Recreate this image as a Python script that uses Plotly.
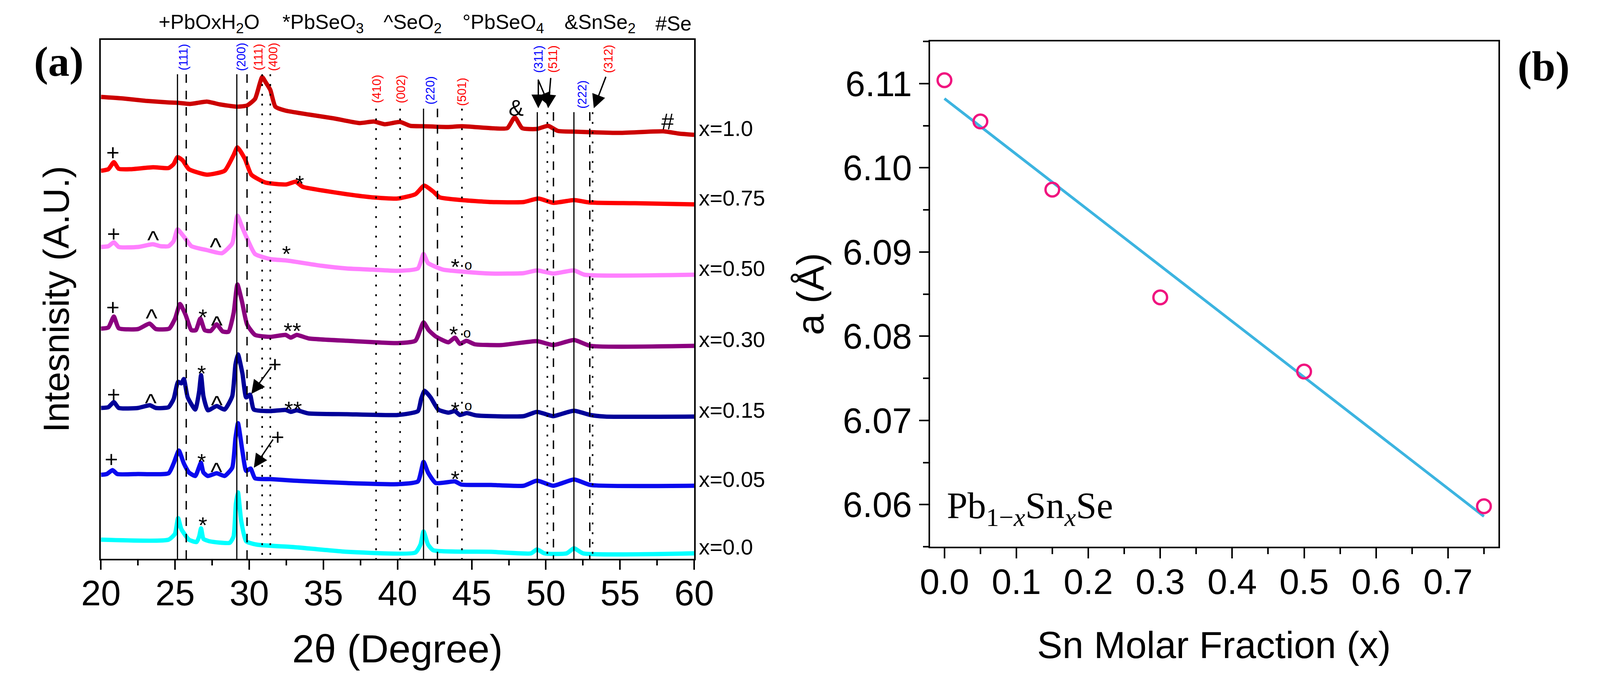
import numpy as np
import plotly.graph_objects as go

# reference canvas (pixel measurements below are in this frame; layout uses fractions of it)
W, H = 4313, 1735
FS = 0.97  # font scale

# ---------------- Panel (a): XRD patterns (2theta in degrees, stacked intensity in a.u.) ----------------
sample_labels = ["x=1.0", "x=0.75", "x=0.50", "x=0.30", "x=0.15", "x=0.05", "x=0.0"]
sample_colors = ["#CC0000", "#FF0000", "#FF80FF", "#8B007F", "#000099", "#0A0AEE", "#00FFFF"]

t_10 = [20.0, 21.5, 23.0, 24.5, 25.16, 26.0, 27.14, 28.0, 29.16, 29.85, 30.39, 30.7, 30.87, 31.1, 31.42,
        31.76, 32.44, 34.0, 35.71, 37.43, 38.4, 39.14, 40.17, 40.86, 41.75, 43.43, 44.34, 46.3, 47.4, 47.9,
        48.4, 49.39, 50.15, 50.8, 52.0, 55.0, 57.9, 59.0, 60.0]
i_10 = [1182, 1178, 1172, 1168, 1167, 1164, 1170, 1163, 1157, 1160, 1177, 1215, 1233, 1220, 1200,
        1157, 1147, 1137, 1127, 1115, 1119, 1112, 1118, 1108, 1107, 1105, 1107, 1102, 1102, 1130,
        1102, 1100, 1108, 1095, 1093, 1090, 1094, 1088, 1085]

t_075 = [20.0, 20.5, 20.87, 21.2, 21.98, 23.52, 24.56, 24.9, 25.16, 25.5, 25.93, 27.14, 28.34, 28.94, 29.2,
         29.71, 30.14, 31.08, 32.5, 33.13, 33.6, 34.86, 36.57, 38.29, 40.0, 41.2, 41.8, 42.4, 42.84, 44.34,
         46.3, 48.5, 49.5, 50.5, 51.9, 52.9, 56.0, 60.0]
i_075 = [993, 997, 1015, 998, 997, 1002, 1000, 1010, 1028, 1020, 997, 983, 993, 1033, 1053,
         1023, 983, 963, 958, 965, 952, 943, 933, 925, 922, 933, 955, 940, 925, 918,
         913, 913, 922, 911, 918, 912, 910, 907]

t_050 = [20.0, 20.5, 20.87, 21.2, 22.5, 23.5, 24.0, 24.56, 24.9, 25.16, 25.68, 26.1, 27.14, 28.16, 28.85,
         29.2, 29.54, 29.85, 30.39, 31.42, 32.6, 34.86, 36.57, 38.29, 40.0, 41.37, 41.75, 42.05, 43.07, 44.34,
         46.3, 48.5, 49.4, 50.5, 51.9, 52.6, 60.0]
i_050 = [798, 800, 810, 798, 798, 805, 800, 800, 813, 843, 820, 800, 790, 782, 807,
         878, 847, 820, 780, 767, 763, 750, 743, 740, 737, 743, 780, 757, 740, 735,
         730, 731, 738, 730, 738, 727, 727]

t_030 = [20.0, 20.5, 20.87, 21.2, 22.5, 23.28, 23.7, 24.6, 25.0, 25.33, 25.7, 26.1, 26.4, 26.7, 27.0,
         27.4, 27.8, 28.2, 28.6, 28.95, 29.2, 29.5, 29.85, 30.39, 31.42, 32.45, 32.8, 33.2, 34.0, 36.57,
         40.0, 41.2, 41.75, 42.1, 42.57, 43.43, 43.87, 44.2, 44.64, 45.2, 47.0, 49.4, 50.5, 51.9, 53.0, 60.0]
i_030 = [589, 592, 620, 590, 588, 602, 588, 589, 615, 652, 625, 585, 585, 615, 585,
         583, 600, 582, 581, 630, 702, 660, 600, 573, 568, 573, 566, 573, 564, 558,
         552, 558, 605, 585, 569, 554, 566, 550, 558, 549, 547, 557, 547, 560, 545, 545]

t_015 = [20.0, 20.5, 20.87, 21.2, 22.5, 23.3, 23.7, 24.56, 24.9, 25.2, 25.42, 25.59, 25.85, 26.36, 26.62,
         26.75, 26.91, 27.21, 27.8, 28.34, 28.85, 29.07, 29.24, 29.54, 29.79, 30.05, 30.31, 31.42, 32.45, 32.8,
         33.2, 34.0, 36.57, 40.0, 41.37, 41.59, 41.82, 42.23, 42.74, 43.43, 43.87, 44.2, 44.67, 45.3, 48.5,
         49.4, 50.5, 51.0, 51.9, 53.0, 54.0, 60.0]
i_015 = [386, 388, 401, 386, 386, 393, 386, 388, 409, 453, 449, 460, 413, 382, 428,
         470, 416, 380, 391, 382, 416, 497, 523, 474, 413, 420, 382, 378, 381, 376,
         380, 372, 370, 368, 378, 409, 430, 413, 382, 374, 378, 368, 373, 367, 365,
         376, 365, 370, 379, 368, 364, 364]

t_005 = [20.0, 20.4, 20.78, 21.1, 22.5, 24.56, 24.9, 25.25, 25.59, 25.93, 26.36, 26.6, 26.74, 26.91, 27.21,
         27.8, 28.34, 28.85, 29.07, 29.24, 29.54, 29.79, 30.09, 30.39, 31.42, 33.0, 36.57, 40.0, 41.37, 41.75,
         42.05, 42.57, 43.87, 44.3, 46.3, 48.5, 49.4, 50.5, 51.9, 53.0, 60.0]
i_005 = [215, 217, 227, 217, 217, 219, 244, 277, 244, 221, 212, 233, 246, 221, 212,
         219, 212, 233, 309, 347, 275, 225, 231, 206, 204, 200, 194, 191, 198, 248,
         221, 194, 198, 190, 189, 187, 200, 187, 203, 189, 187]

t_000 = [20.0, 24.56, 24.99, 25.2, 25.42, 25.93, 26.45, 26.62, 26.75, 26.91, 27.3, 28.68, 28.94, 29.1, 29.24,
         29.45, 29.79, 30.56, 33.0, 36.57, 41.2, 41.55, 41.75, 42.05, 42.4, 46.3, 49.0, 49.4, 49.9, 51.4,
         51.9, 52.5, 60.0]
i_000 = [49, 49, 64, 104, 76, 49, 43, 57, 78, 51, 45, 41, 57, 141, 170,
         99, 45, 36, 30, 18, 16, 37, 70, 37, 22, 18, 14, 24, 14, 14,
         27, 14, 14]

series_t = [t_10, t_075, t_050, t_030, t_015, t_005, t_000]
series_i = [i_10, i_075, i_050, i_030, i_015, i_005, i_000]

# reference line positions (2theta)
pbse_lines = [25.16, 29.16, 41.75, 49.42, 51.89]               # solid
dashed_lines = [25.75, 29.85, 42.69, 50.51, 52.96]             # dashed
snse_lines = [30.87, 31.42, 38.55, 40.17, 44.34, 50.1, 53.15]  # dotted

# Miller index labels: text, 2theta, intensity, phase
hkl_text = ["(111)", "(200)", "(111)", "(400)", "(410)", "(002)", "(220)", "(501)", "(311)", "(511)", "(222)", "(312)"]
hkl_pos = [25.55, 29.44, 30.6, 31.6, 38.58, 40.22, 42.18, 44.33, 49.5, 50.47, 52.44, 54.2]
hkl_int = [1284, 1284, 1284, 1284, 1202, 1202, 1198, 1195, 1279, 1279, 1188, 1279]
hkl_phase = ["b", "b", "r", "r", "r", "r", "b", "r", "b", "r", "b", "r"]

# impurity markers: symbol, 2theta, intensity
mark_sym = ["+", "*", "+", "^", "^", "*", "*", "o", "+", "^", "*", "^", "**", "*", "o",
            "+", "^", "*", "^", "+", "**", "*", "o", "+", "*", "^", "+", "*", "*", "&amp;", "#"]
mark_pos = [20.8, 33.4, 20.87, 23.52, 27.73, 32.5, 43.9, 44.77, 20.8, 23.4, 26.87, 27.8, 32.9, 43.78, 44.67,
            20.87, 23.35, 26.8, 27.8, 31.73, 32.96, 43.9, 44.77, 20.7, 26.8, 27.79, 31.93, 43.9, 26.87, 48.0, 58.2]
mark_int = [1041, 975, 833, 833, 815, 795, 762, 753, 645, 633, 633, 615, 598, 589, 579,
            422, 416, 489, 411, 499, 397, 395, 393, 256, 263, 240, 313, 219, 101, 1155, 1120]

# arrows: head (2theta, intensity), tail (2theta, intensity)
arrow_head_t = [49.49, 50.24, 50.15, 53.23, 30.14, 30.31]
arrow_head_i = [1153, 1158, 1153, 1153, 422, 233]
arrow_tail_t = [49.49, 49.49, 50.33, 54.06, 31.52, 31.63]
arrow_tail_i = [1228, 1225, 1232, 1235, 493, 307]

phase_legend = ["+PbOxH<sub>2</sub>O", "*PbSeO<sub>3</sub>", "^SeO<sub>2</sub>", "°PbSeO<sub>4</sub>",
                "&amp;SnSe<sub>2</sub>", "#Se"]

# ---------------- Panel (b): lattice parameter ----------------
sn_frac = [0.0, 0.05, 0.15, 0.30, 0.50, 0.75]
lattice_a = [6.1104, 6.1055, 6.0974, 6.0846, 6.0758, 6.0598]

x_ticks_a = [20, 25, 30, 35, 40, 45, 50, 55, 60]

FONT = "Liberation Sans"
SERIF = "Liberation Serif"


def fs(v):
    return round(v * FS)


fig = go.Figure()

for t, inten, col, lab in zip(series_t, series_i, sample_colors, sample_labels):
    fig.add_trace(go.Scatter(x=t, y=inten, mode="lines", name=lab, showlegend=False,
                             line=dict(color=col, width=11, shape="spline", smoothing=0.5),
                             xaxis="x", yaxis="y"))

# panel (b): least-squares line, then points
coef = np.polyfit(sn_frac, lattice_a, 1)
xf = np.array([min(sn_frac), max(sn_frac)])
fig.add_trace(go.Scatter(x=xf, y=np.polyval(coef, xf), mode="lines", showlegend=False,
                         line=dict(color="#3CB4E0", width=7), xaxis="x2", yaxis="y2"))
fig.add_trace(go.Scatter(x=sn_frac, y=lattice_a, mode="markers", showlegend=False,
                         marker=dict(symbol="circle-open", size=35, color="#F0147F",
                                     line=dict(width=6, color="#F0147F")),
                         xaxis="x2", yaxis="y2"))


def line_top(t):
    if t < 35:
        return 1240
    if t < 46:
        return 1152
    return 1143


shapes = []
for t in pbse_lines:
    shapes.append(dict(type="line", xref="x", yref="y", x0=t, x1=t, y0=line_top(t), y1=0,
                       line=dict(color="black", width=3)))
for t in dashed_lines:
    shapes.append(dict(type="line", xref="x", yref="y", x0=t, x1=t, y0=line_top(t), y1=0,
                       line=dict(color="black", width=3.5, dash="22px,20px")))
for t in snse_lines:
    shapes.append(dict(type="line", xref="x", yref="y", x0=t, x1=t, y0=line_top(t), y1=0,
                       line=dict(color="black", width=4, dash="5px,20px")))

ann = []
for txt, t, v, ph in zip(hkl_text, hkl_pos, hkl_int, hkl_phase):
    ann.append(dict(text=txt, x=t, y=v, xref="x", yref="y", showarrow=False, textangle=-90,
                    xanchor="center", yanchor="middle",
                    font=dict(family=FONT, size=fs(32), color="#0000FF" if ph == "b" else "#FF0000")))
for s, t, v in zip(mark_sym, mark_pos, mark_int):
    if s == "o":
        size, ys = 36, 0
    elif s == "^":
        size, ys = 66, -17
    elif s in ("*", "**"):
        size, ys = 60, -14
    else:
        size, ys = 60, 0
    ann.append(dict(text=s, x=t, y=v, xref="x", yref="y", showarrow=False, yshift=ys,
                    xanchor="center", yanchor="middle",
                    font=dict(family=FONT, size=fs(size), color="black")))
for hx, hy, tx, ty in zip(arrow_head_t, arrow_head_i, arrow_tail_t, arrow_tail_i):
    ann.append(dict(text="", x=hx, y=hy, ax=tx, ay=ty, xref="x", yref="y", axref="x", ayref="y",
                    showarrow=True, arrowhead=2, arrowsize=2, arrowwidth=3.5, arrowcolor="black",
                    standoff=0, startstandoff=0))
for t, inten, lab in zip(series_t, series_i, sample_labels):
    ann.append(dict(text=lab, x=t[-1], y=inten[-1], xref="x", yref="y", xanchor="left", yanchor="middle",
                    xshift=10, yshift=17, showarrow=False, font=dict(family=FONT, size=fs(58), color="black")))
legend_left_px = [381, 723, 1003, 1221, 1503, 1755]
for txt, xl in zip(phase_legend, legend_left_px):
    ann.append(dict(text=txt, x=xl / W, y=1 - 60 / H, xref="paper", yref="paper", xanchor="left",
                    yanchor="middle", showarrow=False, font=dict(family=FONT, size=fs(54), color="black")))

ann += [
    dict(text="Intesnisity (A.U.)", x=100 / W, y=1 - 766 / H, xref="paper", yref="paper", textangle=-90,
         xanchor="center", yanchor="middle", showarrow=False, font=dict(family=FONT, size=fs(96), color="black")),
    dict(text="2θ (Degree)", x=1044 / W, y=1 - 1660 / H, xref="paper", yref="paper",
         xanchor="center", yanchor="middle", showarrow=False, font=dict(family=FONT, size=fs(104), color="black")),
    dict(text="Sn Molar Fraction (x)", x=3301 / W, y=1 - 1650 / H, xref="paper", yref="paper",
         xanchor="center", yanchor="middle", showarrow=False, font=dict(family=FONT, size=fs(100), color="black")),
    dict(text="a (Å)", x=2185 / W, y=1 - 752 / H, xref="paper", yref="paper", textangle=-90,
         xanchor="center", yanchor="middle", showarrow=False, font=dict(family=FONT, size=fs(100), color="black")),
    dict(text="<b>(a)</b>", x=107 / W, y=1 - 157 / H, xref="paper", yref="paper",
         xanchor="center", yanchor="middle", showarrow=False, font=dict(family=SERIF, size=fs(112), color="black")),
    dict(text="<b>(b)</b>", x=4212 / W, y=1 - 169 / H, xref="paper", yref="paper",
         xanchor="center", yanchor="middle", showarrow=False, font=dict(family=SERIF, size=fs(112), color="black")),
    dict(text="Pb<sub>1−<i>x</i></sub>Sn<sub><i>x</i></sub>Se", x=2560 / W, y=1 - 1300 / H,
         xref="paper", yref="paper", xanchor="left", yanchor="middle",
         showarrow=False, font=dict(family=SERIF, size=fs(98), color="black")),
]

axis_common = dict(showline=True, linewidth=4, linecolor="black", mirror=True, showgrid=False,
                   zeroline=False)
tick_font = dict(size=fs(94), family=FONT, color="black")

fig.update_layout(
    autosize=True, margin=dict(l=0, r=0, t=0, b=0, pad=0),
    paper_bgcolor="white", plot_bgcolor="white",
    font=dict(family=FONT, color="black"),
    shapes=shapes, annotations=ann, showlegend=False,
    xaxis=dict(domain=[224 / W, 1864 / W], range=[20, 60], tickmode="array", tickvals=x_ticks_a,
               ticks="outside", ticklen=24, tickwidth=4, tickcolor="black", ticklabelstandoff=-18,
               minor=dict(dtick=2.5, tick0=20, ticks="outside", ticklen=13, tickwidth=4, tickcolor="black"),
               tickfont=tick_font, anchor="y", **axis_common),
    yaxis=dict(domain=[1 - 1430 / H, 1 - 102 / H], range=[0, 1328], showticklabels=False, ticks="",
               anchor="x", **axis_common),
    xaxis2=dict(domain=[2516 / W, 4087 / W], range=[-0.02, 0.77], dtick=0.1, tick0=0, tickformat=".1f",
                ticks="outside", ticklen=26, tickwidth=4, tickcolor="black", ticklabelstandoff=-18,
                minor=dict(dtick=0.05, tick0=0, ticks="outside", ticklen=15, tickwidth=4, tickcolor="black"),
                tickfont=tick_font, anchor="y2", **axis_common),
    yaxis2=dict(domain=[1 - 1399 / H, 1 - 106 / H], range=[6.055, 6.115], dtick=0.01, tick0=6.06,
                tickformat=".2f", ticks="outside", ticklen=24, tickwidth=4, tickcolor="black",
                minor=dict(dtick=0.005, tick0=6.06, ticks="outside", ticklen=14, tickwidth=4, tickcolor="black"),
                tickfont=tick_font, anchor="x2", **axis_common),
)

# the figure fills the browser window
fig.write_html("out.html", default_width="100vw", default_height="100vh",
               config={"displayModeBar": False, "responsive": True},
               post_script="document.body.style.margin='0px';document.body.style.overflow='hidden';")
